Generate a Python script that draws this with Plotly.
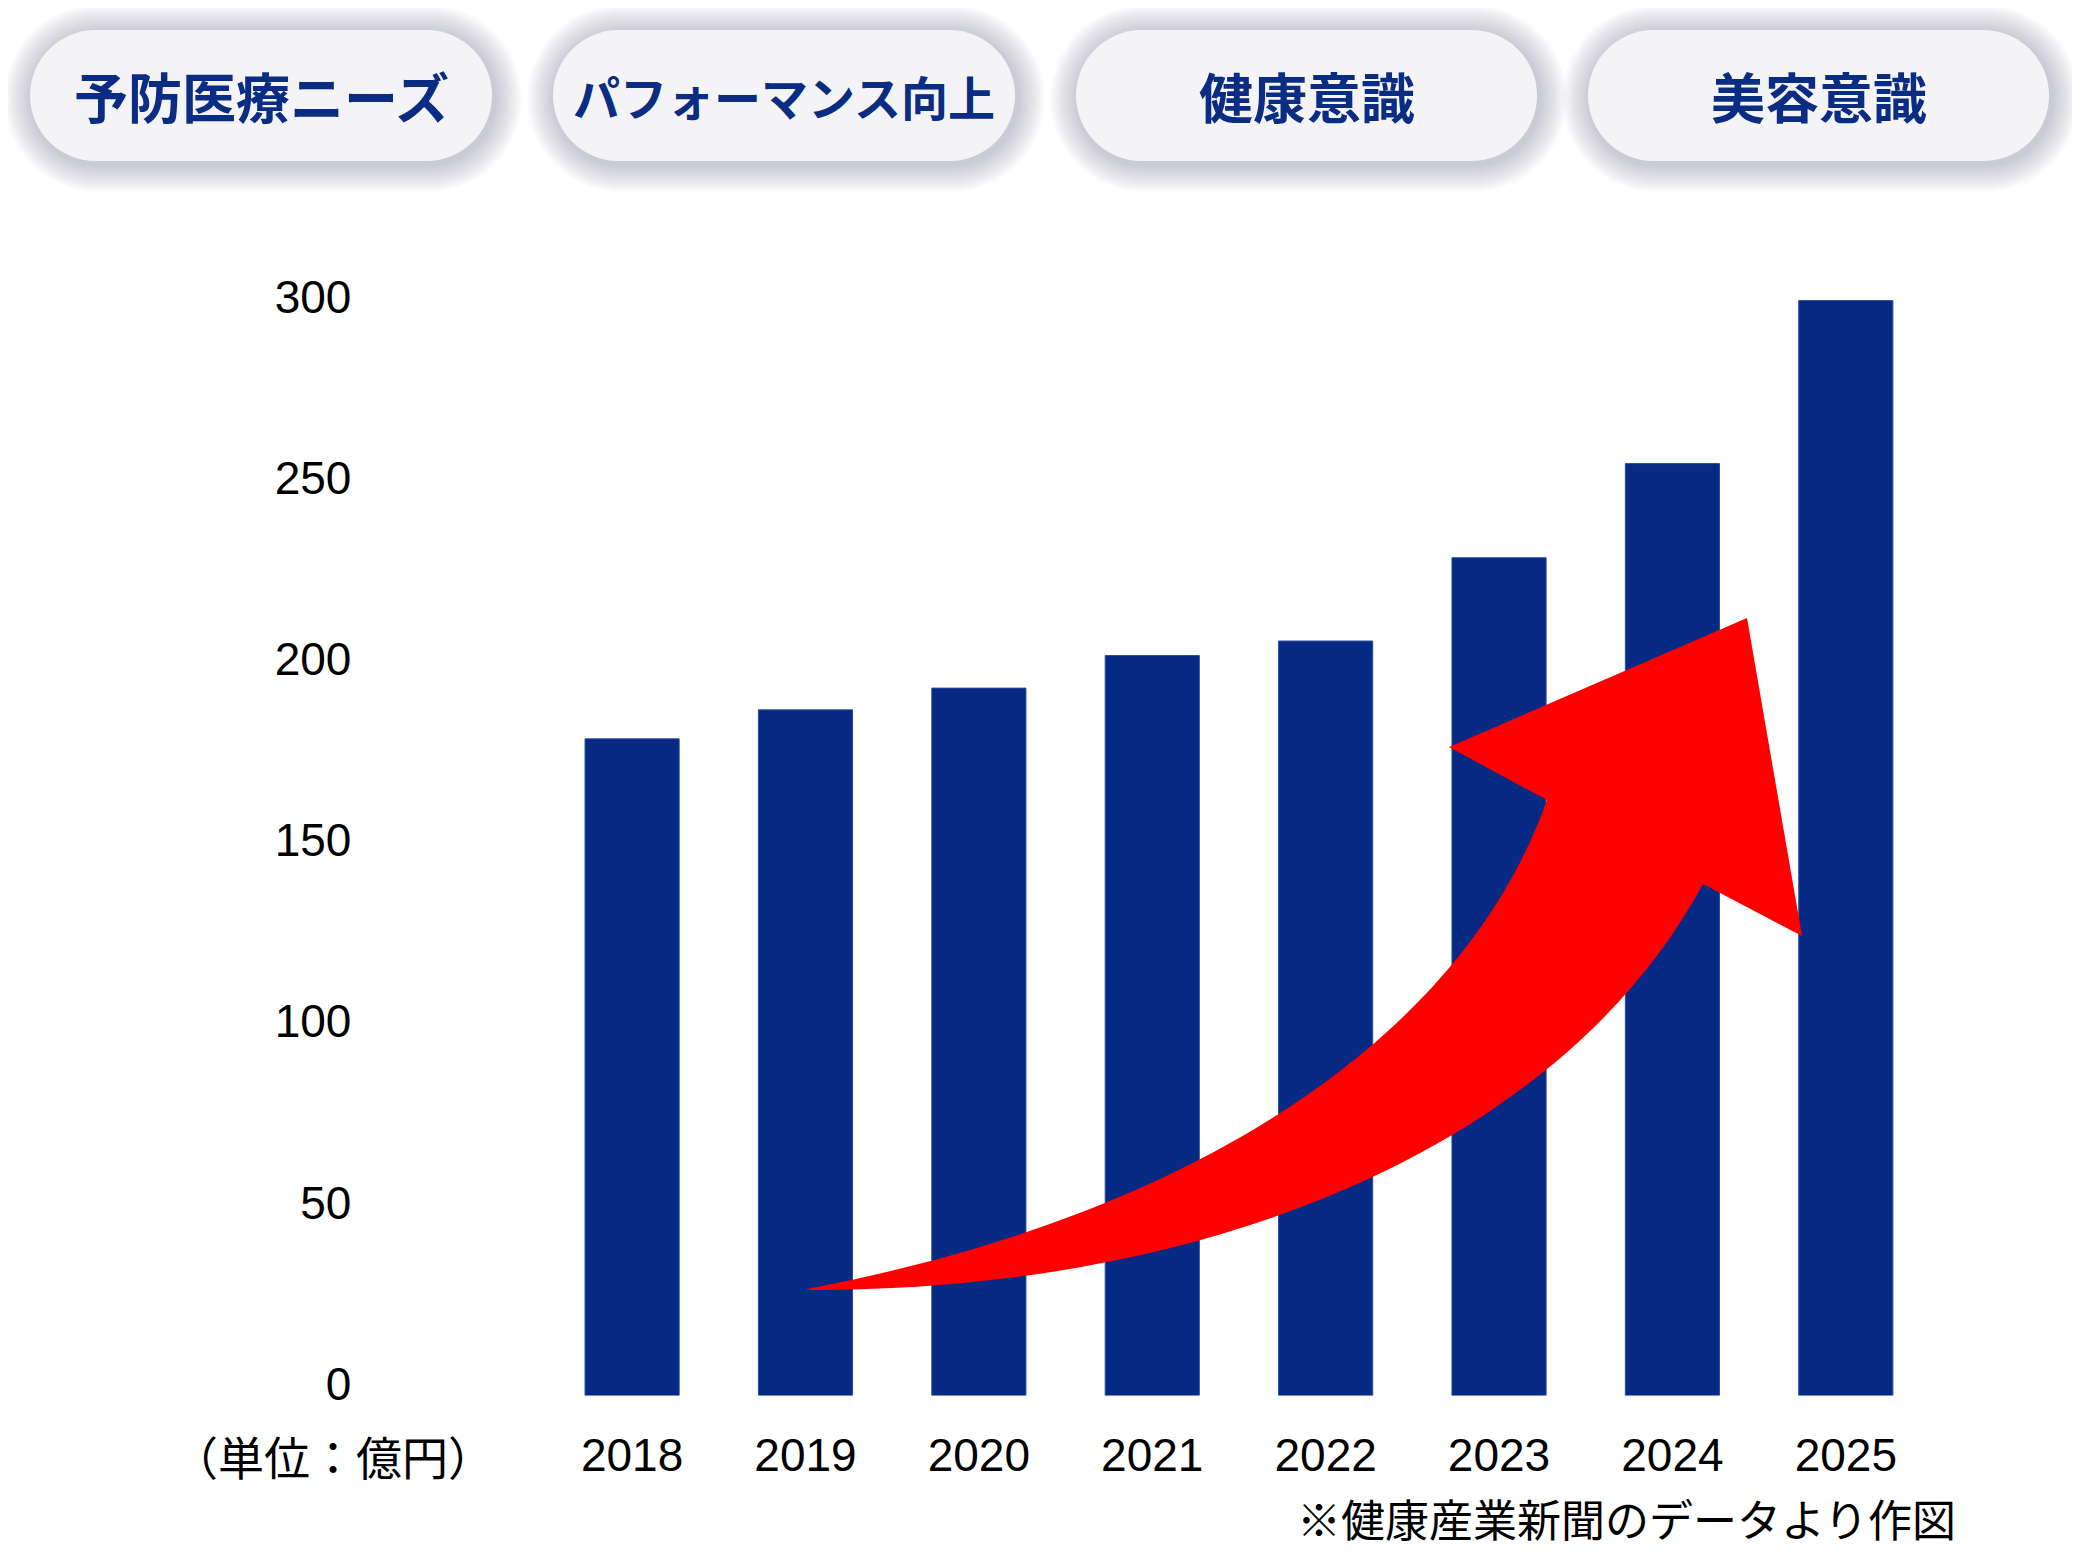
import plotly.graph_objects as go

# 健康食品市場の推移（単位：億円）
years = ["2018", "2019", "2020", "2021", "2022", "2023", "2024", "2025"]
market = [178, 186, 192, 201, 205, 228, 254, 299]
y_ticks = [0, 50, 100, 150, 200, 250, 300]

pill_labels = ["予防医療ニーズ", "パフォーマンス向上", "健康意識", "美容意識"]
unit_label = "（単位：億円）"
source_note = "※健康産業新聞のデータより作図"

# ページのbody余白(8px)を差し引いた図のサイズ
OFF = 8
W, H = 2080 - 2 * OFF, 1560 - 2 * OFF
NAVY = "#062a84"
JP = "Noto Sans CJK JP"
NUM = "Liberation Sans, Arial, sans-serif"
BASE = -3.3  # 棒の下端は目盛り0より少し下


# 画面ピクセル座標 -> paper座標
def px(x):
    return (x - OFF) / W


def py(y):
    return 1 - (y - OFF) / H


def pt(x, y):
    return f"{px(x):.5f},{py(y):.5f}"


def pill_path(x0, y0, x1, y1, r):
    k = 0.5523 * r
    return (f"M {pt(x0 + r, y0)} L {pt(x1 - r, y0)} "
            f"C {pt(x1 - r + k, y0)} {pt(x1, y0 + r - k)} {pt(x1, y0 + r)} "
            f"L {pt(x1, y1 - r)} "
            f"C {pt(x1, y1 - r + k)} {pt(x1 - r + k, y1)} {pt(x1 - r, y1)} "
            f"L {pt(x0 + r, y1)} "
            f"C {pt(x0 + r - k, y1)} {pt(x0, y1 - r + k)} {pt(x0, y1 - r)} "
            f"L {pt(x0, y0 + r)} "
            f"C {pt(x0, y0 + r - k)} {pt(x0 + r - k, y0)} {pt(x0 + r, y0)} Z")


fig = go.Figure()

fig.add_trace(go.Bar(
    x=years, y=[v - BASE for v in market], base=BASE, customdata=market,
    marker=dict(color=NAVY, line=dict(width=1, color="#2d4c9c")),
    hovertemplate="%{x}: %{customdata}億円<extra></extra>",
))

shapes = []

# 上部のラベル（ピル型）
pill_x = [(30, 492), (553, 1015), (1076, 1537), (1588, 2049)]
pill_y0, pill_y1 = 30, 161
pill_sizes = [54, 47, 54, 54]
for (x0, x1) in pill_x:
    for i in range(12, 0, -1):
        g = 2.3 * i
        shapes.append(dict(
            type="path", xref="paper", yref="paper", layer="above",
            path=pill_path(x0 - g + 2, pill_y0 - g + 3, x1 + g + 2, pill_y1 + g + 3, 65.5 + g),
            fillcolor="#8e90aa", opacity=0.045, line=dict(width=0),
        ))
    shapes.append(dict(
        type="path", xref="paper", yref="paper", layer="above",
        path=pill_path(x0, pill_y0, x1, pill_y1, 65.5),
        fillcolor="#f4f4f6", line=dict(width=0),
    ))

# 赤い矢印（曲線の軸＋矢じり）
arrow = (f"M {pt(807, 1289)} C {pt(1207, 1213)} {pt(1466, 1030)} {pt(1547, 800)}"
         f" L {pt(1449, 747)} L {pt(1747, 618)} L {pt(1802, 936)} L {pt(1703, 884)}"
         f" C {pt(1554, 1159)} {pt(1187, 1292)} {pt(807, 1290)} Z")
shapes.append(dict(type="path", xref="paper", yref="paper", layer="above",
                   path=arrow, fillcolor="#ff0000", line=dict(width=0)))

annotations = []
for (x0, x1), label, size in zip(pill_x, pill_labels, pill_sizes):
    annotations.append(dict(
        x=px((x0 + x1) / 2), y=py((pill_y0 + pill_y1) / 2), xref="paper", yref="paper",
        text=f"<b>{label}</b>", showarrow=False, xanchor="center", yanchor="middle",
        font=dict(family=JP, size=size, color="#0a2c82"),
    ))

annotations.append(dict(
    x=px(333), y=py(1455), xref="paper", yref="paper", text=unit_label, showarrow=False,
    xanchor="center", yanchor="middle", font=dict(family=JP, size=46, color="black"),
))
annotations.append(dict(
    x=px(1958), y=py(1518), xref="paper", yref="paper", text=source_note, showarrow=False,
    xanchor="right", yanchor="middle", font=dict(family=JP, size=44, color="black"),
))

fig.update_layout(
    template="none",
    width=W, height=H,
    margin=dict(l=0, r=0, t=0, b=0),
    paper_bgcolor="white", plot_bgcolor="white",
    showlegend=False,
    bargap=0.457,
    shapes=shapes,
    annotations=annotations,
    xaxis=dict(
        domain=[px(545.4), px(1932.5)], automargin=False,
        showgrid=False, zeroline=False, showline=False, ticks="",
        tickfont=dict(family=NUM, size=46, color="black"),
        ticklabelstandoff=28,
    ),
    yaxis=dict(
        domain=[py(1395.5), py(224.5)], range=[BASE, 320], automargin=False,
        tickvals=y_ticks, showgrid=False, zeroline=False, showline=False, ticks="",
        tickfont=dict(family=NUM, size=46, color="black"),
        ticklabelstandoff=193,
    ),
)

fig.write_html("out.html")
